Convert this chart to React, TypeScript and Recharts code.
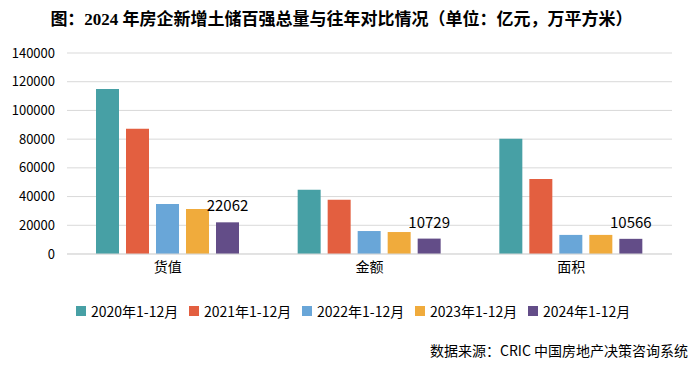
import React from "react";
import { BarChart, Bar, XAxis, YAxis, CartesianGrid, LabelList } from "recharts";

const categories = ["货值", "金额", "面积"];
const s2020 = [115000, 44700, 80200];
const s2021 = [87200, 37700, 52300];
const s2022 = [34900, 16000, 13300];
const s2023 = [31400, 15300, 13300];
const s2024 = [22062, 10729, 10566];
const seriesNames = ["2020年1-12月", "2021年1-12月", "2022年1-12月", "2023年1-12月", "2024年1-12月"];
const seriesColors = ["#47A0A5", "#E35F40", "#69A6D8", "#F0AB3C", "#634D88"];
const yTicks = [0, 20000, 40000, 60000, 80000, 100000, 120000, 140000];
const title = "图：2024 年房企新增土储百强总量与往年对比情况（单位：亿元，万平方米）";
const source = "数据来源：CRIC 中国房地产决策咨询系统";

const seriesValues = [s2020, s2021, s2022, s2023, s2024];
const data = categories.map((c, i) => {
  const row: Record<string, string | number> = { name: c };
  seriesNames.forEach((s, j) => {
    row[s] = seriesValues[j][i];
  });
  return row;
});

const FONT = '"Noto Sans CJK SC", "Noto Sans", sans-serif';

export default function App() {
  return (
    <div style={{ position: "absolute", left: 0, top: 0, width: 700, height: 377, background: "#fff", fontFamily: FONT }}>
      <div
        style={{
          position: "absolute",
          left: 0,
          width: 700,
          top: 8,
          textAlign: "center",
          fontFamily: '"Liberation Serif", "Noto Sans CJK SC", serif',
          fontWeight: "bold",
          fontSize: 17,
          lineHeight: "24px",
          color: "#000",
          paddingRight: 17,
          boxSizing: "border-box",
        }}
      >
        {title}
      </div>
      <BarChart
        width={700}
        height={377}
        data={data}
        margin={{ top: 53, right: 28, left: 0, bottom: 93 }}
        barSize={23}
        barGap={7}
      >
        <CartesianGrid vertical={false} stroke="#D9D9D9" />
        <XAxis
          dataKey="name"
          axisLine={{ stroke: "#D9D9D9" }}
          tickLine={false}
          tick={{ fill: "#000", fontSize: 14, fontFamily: FONT }}
        />
        <YAxis
          width={67}
          domain={[0, 140000]}
          ticks={yTicks}
          axisLine={false}
          tickLine={false}
          tickMargin={6}
          tick={{ fill: "#000", fontSize: 13, fontFamily: FONT }}
        />
        {seriesNames.map((s, j) => (
          <Bar key={s} dataKey={s} fill={seriesColors[j]} isAnimationActive={false}>
            {j === seriesNames.length - 1 ? (
              <LabelList dataKey={s} position="top" offset={11} fill="#000" fontSize={15} fontFamily={FONT} />
            ) : null}
          </Bar>
        ))}
      </BarChart>
      <div style={{ position: "absolute", left: 76, top: 301, height: 20, display: "flex", alignItems: "center" }}>
        {seriesNames.map((s, j) => (
          <div key={s} style={{ width: j === seriesNames.length - 1 ? "auto" : 113, display: "flex", alignItems: "center" }}>
            <div style={{ width: 10, height: 10, background: seriesColors[j], marginRight: 5 }} />
            <span style={{ fontSize: 14, color: "#000", lineHeight: "20px" }}>{s}</span>
          </div>
        ))}
      </div>
      <div
        style={{
          position: "absolute",
          right: 12,
          top: 340,
          fontSize: 14,
          lineHeight: "20px",
          color: "#000",
          whiteSpace: "nowrap",
        }}
      >
        {source}
      </div>
    </div>
  );
}
